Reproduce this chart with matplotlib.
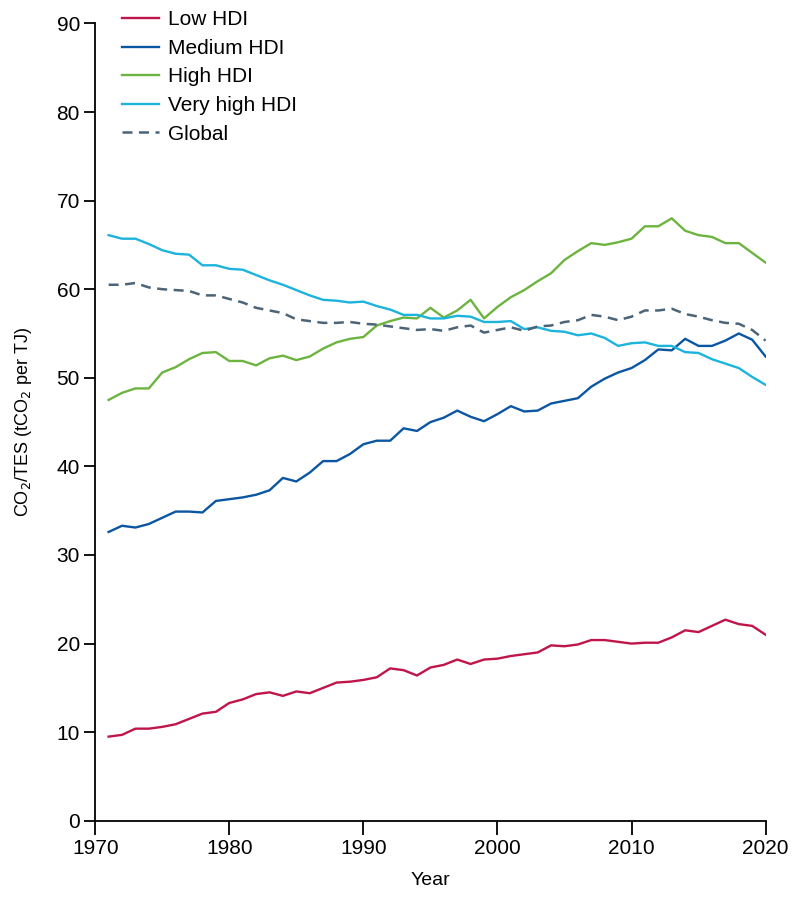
import matplotlib
matplotlib.use("agg")
import matplotlib.pyplot as plt
import numpy as np

plt.rcParams['font.family'] = ['Liberation Sans', 'DejaVu Sans']

years = np.arange(1971, 2021)

low_hdi = [9.5, 9.7, 10.4, 10.4, 10.6, 10.9, 11.5, 12.1, 12.3, 13.3,
           13.7, 14.3, 14.5, 14.1, 14.6, 14.4, 15.0, 15.6, 15.7, 15.9,
           16.2, 17.2, 17.0, 16.4, 17.3, 17.6, 18.2, 17.7, 18.2, 18.3,
           18.6, 18.8, 19.0, 19.8, 19.7, 19.9, 20.4, 20.4, 20.2, 20.0,
           20.1, 20.1, 20.7, 21.5, 21.3, 22.0, 22.7, 22.2, 22.0, 21.0]

medium_hdi = [32.6, 33.3, 33.1, 33.5, 34.2, 34.9, 34.9, 34.8, 36.1, 36.3,
              36.5, 36.8, 37.3, 38.7, 38.3, 39.3, 40.6, 40.6, 41.4, 42.5,
              42.9, 42.9, 44.3, 44.0, 45.0, 45.5, 46.3, 45.6, 45.1, 45.9,
              46.8, 46.2, 46.3, 47.1, 47.4, 47.7, 49.0, 49.9, 50.6, 51.1,
              52.0, 53.2, 53.1, 54.4, 53.6, 53.6, 54.2, 55.0, 54.3, 52.4]

high_hdi = [47.5, 48.3, 48.8, 48.8, 50.6, 51.2, 52.1, 52.8, 52.9, 51.9,
            51.9, 51.4, 52.2, 52.5, 52.0, 52.4, 53.3, 54.0, 54.4, 54.6,
            55.9, 56.4, 56.8, 56.7, 57.9, 56.8, 57.6, 58.8, 56.7, 58.0,
            59.1, 59.9, 60.9, 61.8, 63.3, 64.3, 65.2, 65.0, 65.3, 65.7,
            67.1, 67.1, 68.0, 66.6, 66.1, 65.9, 65.2, 65.2, 64.1, 63.0]

very_high_hdi = [66.1, 65.7, 65.7, 65.1, 64.4, 64.0, 63.9, 62.7, 62.7, 62.3,
                 62.2, 61.6, 61.0, 60.5, 59.9, 59.3, 58.8, 58.7, 58.5, 58.6,
                 58.1, 57.7, 57.1, 57.1, 56.7, 56.7, 57.0, 56.9, 56.3, 56.3,
                 56.4, 55.5, 55.7, 55.3, 55.2, 54.8, 55.0, 54.5, 53.6, 53.9,
                 54.0, 53.6, 53.6, 52.9, 52.8, 52.1, 51.6, 51.1, 50.1, 49.2]

global_avg = [60.5, 60.5, 60.7, 60.2, 60.0, 59.9, 59.8, 59.3, 59.3, 58.9,
              58.5, 57.9, 57.6, 57.3, 56.6, 56.4, 56.2, 56.2, 56.3, 56.1,
              56.0, 55.8, 55.6, 55.4, 55.5, 55.3, 55.7, 55.9, 55.1, 55.4,
              55.7, 55.3, 55.8, 55.9, 56.3, 56.5, 57.1, 56.9, 56.5, 56.9,
              57.6, 57.6, 57.8, 57.2, 56.9, 56.5, 56.2, 56.1, 55.4, 54.2]

fig = plt.figure(figsize=(8, 9), dpi=100)
ax = fig.add_axes([0.119, 0.088, 0.838, 0.886])

lw = 1.7
ax.plot(years, low_hdi, color='#c0154a', lw=lw, label='Low HDI')
ax.plot(years, medium_hdi, color='#0b56a2', lw=lw, label='Medium HDI')
ax.plot(years, high_hdi, color='#6cb43f', lw=lw, label='High HDI')
ax.plot(years, very_high_hdi, color='#1cb3dc', lw=lw, label='Very high HDI')
ax.plot(years, global_avg, color='#4b6477', lw=1.8, ls=(0, (4, 2.6)), label='Global')

ax.set_xlim(1970, 2020)
ax.set_ylim(0, 90)
ax.set_xticks(np.arange(1970, 2021, 10))
ax.set_yticks(np.arange(0, 91, 10))

for s in ['top', 'right']:
    ax.spines[s].set_visible(False)
for s in ['left', 'bottom']:
    ax.spines[s].set_linewidth(1.3)
ax.tick_params(axis='y', length=8, width=1.3, labelsize=15, pad=3)
ax.tick_params(axis='x', length=10, width=1.3, labelsize=15, pad=3)

ax.set_xlabel('Year', fontsize=14, labelpad=10)
ax.set_ylabel(r'CO$_2$/TES (tCO$_2$ per TJ)', fontsize=13, labelpad=16)

ax.legend(loc='upper left', bbox_to_anchor=(0.012, 1.04), frameon=False,
          fontsize=15, handlelength=1.8, handletextpad=0.4, labelspacing=0.46)

plt.savefig('out.png', dpi=100)
